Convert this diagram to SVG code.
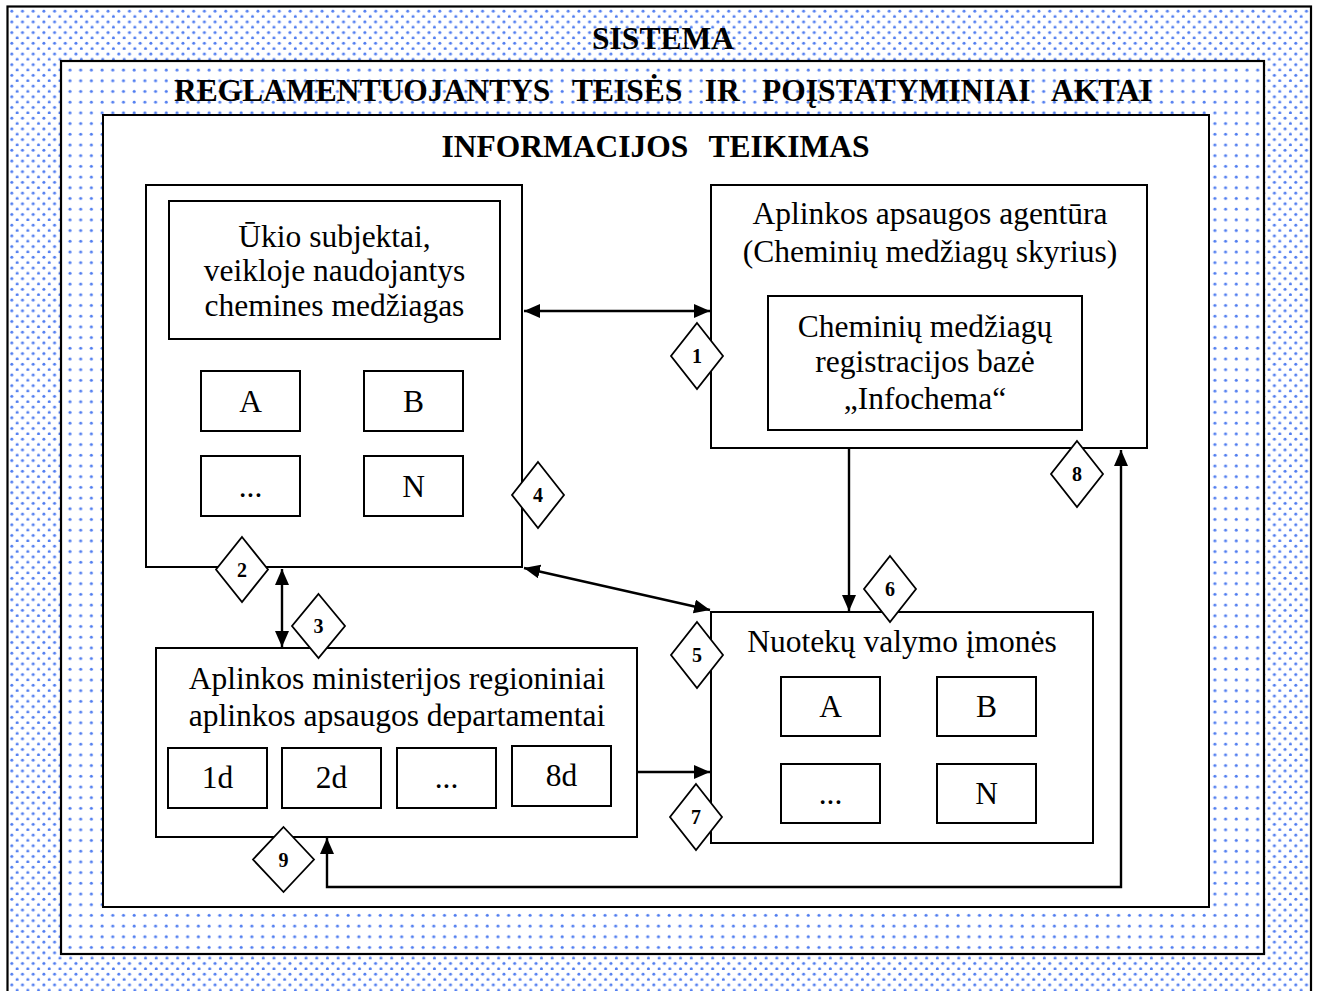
<svg xmlns="http://www.w3.org/2000/svg" width="1321" height="991" viewBox="0 0 1321 991">
<defs>
<pattern id="dense" patternUnits="userSpaceOnUse" x="8" y="7" width="10.7" height="10.7">
<rect width="10.7" height="10.7" fill="#ffffff"/>
<circle cx="3.8" cy="4.2" r="1.5" fill="#4f7cf0"/>
<circle cx="9.15" cy="9.55" r="1.5" fill="#4f7cf0"/>
</pattern>
<pattern id="sparse" patternUnits="userSpaceOnUse" x="62" y="62" width="10.7" height="10.7">
<rect width="10.7" height="10.7" fill="#ffffff"/>
<circle cx="8" cy="8" r="1.5" fill="#4f7cf0"/>
</pattern>
<marker id="ah" markerUnits="userSpaceOnUse" markerWidth="18" markerHeight="16" refX="16" refY="7" orient="auto-start-reverse" viewBox="0 0 18 16">
<path d="M0,0 L16,7 L0,14 Z" fill="#000"/>
</marker>
<style>
.box{fill:#ffffff;stroke:#000;stroke-width:2}
.t{font-family:"Liberation Serif","Times New Roman",serif;font-size:31.5px;fill:#000;text-anchor:middle}
.h{font-family:"Liberation Serif","Times New Roman",serif;font-size:31.5px;font-weight:bold;fill:#000;text-anchor:middle}
.dm{fill:#ffffff;stroke:#000;stroke-width:1.8}
.dn{font-family:"Liberation Serif","Times New Roman",serif;font-size:20px;font-weight:bold;fill:#000;text-anchor:middle}
.c{fill:none;stroke:#000;stroke-width:2.4;marker-start:url(#ah);marker-end:url(#ah)}
.c1{fill:none;stroke:#000;stroke-width:2.4;marker-end:url(#ah)}
</style>
</defs>
<rect width="1321" height="991" fill="#ffffff"/>
<g id="sistema">
<rect x="7.5" y="6.5" width="1303.5" height="1000" fill="url(#dense)" stroke="#000" stroke-width="2.2"/>
<text class="h" x="663" y="49">SISTEMA</text>
</g>
<g id="aktai">
<rect x="61" y="61" width="1203" height="893" fill="url(#sparse)" stroke="#000" stroke-width="2.2"/>
<text class="h" x="663" y="101" word-spacing="14.5">REGLAMENTUOJANTYS TEISĖS IR POĮSTATYMINIAI AKTAI</text>
</g>
<g id="informacija">
<rect x="103" y="115" width="1106" height="792" class="box" stroke-width="2.2"/>
<text class="h" x="655.5" y="157" word-spacing="13">INFORMACIJOS TEIKIMAS</text>
</g>
<g id="ukio-subjektai">
<rect x="146" y="185" width="376" height="382" class="box"/>
<rect x="169" y="201" width="331" height="138" class="box"/>
<text class="t" x="334.5" y="247">Ūkio subjektai,</text>
<text class="t" x="334.5" y="281">veikloje naudojantys</text>
<text class="t" x="334.5" y="316">chemines medžiagas</text>
<rect x="201" y="371" width="99" height="60" class="box"/>
<text class="t" x="250.5" y="412">A</text>
<rect x="364" y="371" width="99" height="60" class="box"/>
<text class="t" x="413.5" y="412">B</text>
<rect x="201" y="456" width="99" height="60" class="box"/>
<text class="t" x="250.5" y="497">...</text>
<rect x="364" y="456" width="99" height="60" class="box"/>
<text class="t" x="413.5" y="497">N</text>
</g>
<g id="agentura">
<rect x="711" y="185" width="436" height="263" class="box"/>
<text class="t" x="930" y="224">Aplinkos apsaugos agentūra</text>
<text class="t" x="930" y="262">(Cheminių medžiagų skyrius)</text>
<rect x="768" y="296" width="314" height="134" class="box"/>
<text class="t" x="925" y="337">Cheminių medžiagų</text>
<text class="t" x="925" y="372">registracijos bazė</text>
<text class="t" x="925" y="409">„Infochema“</text>
</g>
<g id="nuoteku-imones">
<rect x="711" y="612" width="382" height="231" class="box"/>
<text class="t" x="902" y="652">Nuotekų valymo įmonės</text>
<rect x="781" y="677" width="99" height="59" class="box"/>
<text class="t" x="830.5" y="717">A</text>
<rect x="937" y="677" width="99" height="59" class="box"/>
<text class="t" x="986.5" y="717">B</text>
<rect x="781" y="764" width="99" height="59" class="box"/>
<text class="t" x="830.5" y="804">...</text>
<rect x="937" y="764" width="99" height="59" class="box"/>
<text class="t" x="986.5" y="804">N</text>
</g>
<g id="ministerija">
<rect x="156" y="648" width="481" height="189" class="box"/>
<text class="t" x="397" y="689">Aplinkos ministerijos regioniniai</text>
<text class="t" x="397" y="726">aplinkos apsaugos departamentai</text>
<rect x="168" y="748" width="99" height="60" class="box"/>
<text class="t" x="217.5" y="788">1d</text>
<rect x="282" y="748" width="99" height="60" class="box"/>
<text class="t" x="331.5" y="788">2d</text>
<rect x="397" y="748" width="99" height="60" class="box"/>
<text class="t" x="446.5" y="788">...</text>
<rect x="512" y="746" width="99" height="60" class="box"/>
<text class="t" x="561.5" y="786">8d</text>
</g>
<g id="connectors">
<line class="c" x1="524" y1="311" x2="710" y2="311"/>
<line class="c" x1="282" y1="569" x2="282" y2="647"/>
<line class="c" x1="524" y1="568" x2="710" y2="610"/>
<line class="c1" x1="849" y1="449" x2="849" y2="611"/>
<line class="c1" x1="637" y1="772" x2="710" y2="772"/>
<path class="c" d="M327,838 V887 H1121 V450"/>
</g>
<g id="diamond-1"><polygon class="dm" points="697,323 723,356 697,389 671,356"/><text class="dn" x="697" y="363">1</text></g>
<g id="diamond-2"><polygon class="dm" points="242,537 268,569.5 242,602 216,569.5"/><text class="dn" x="242" y="576.5">2</text></g>
<g id="diamond-3"><polygon class="dm" points="318.5,594 345,626 318.5,658 292,626"/><text class="dn" x="318.5" y="633">3</text></g>
<g id="diamond-4"><polygon class="dm" points="538,462 564,495 538,528 512,495"/><text class="dn" x="538" y="502">4</text></g>
<g id="diamond-5"><polygon class="dm" points="697,622 723,655 697,688 671,655"/><text class="dn" x="697" y="662">5</text></g>
<g id="diamond-6"><polygon class="dm" points="890,556 916,589 890,622 864,589"/><text class="dn" x="890" y="596">6</text></g>
<g id="diamond-7"><polygon class="dm" points="696,784 722,817 696,850 670,817"/><text class="dn" x="696" y="824">7</text></g>
<g id="diamond-8"><polygon class="dm" points="1077,441 1103,474 1077,507 1051,474"/><text class="dn" x="1077" y="481">8</text></g>
<g id="diamond-9"><polygon class="dm" points="283.5,827 314,859.5 283.5,892 253,859.5"/><text class="dn" x="283.5" y="866.5">9</text></g>
</svg>
